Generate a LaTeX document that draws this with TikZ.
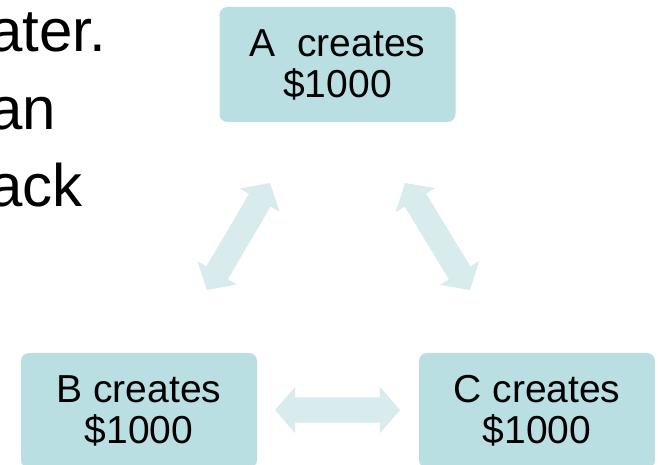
\documentclass[tikz,border=0pt]{standalone}
\usepackage{fontspec}
\setmainfont{Liberation Sans}
\usetikzlibrary{calc}
\definecolor{boxfill}{HTML}{B9DFE3}
\definecolor{arrfill}{HTML}{D8ECEE}
\newcommand\fatarrow[2]{%
  \fill[arrfill] (#1) -- ($(#1)!30.5pt!49.0:(#2)$) -- ($(#1)!23.6pt!32.0:(#2)$)
    -- ($(#2)!23.6pt!-32.0:(#1)$) -- ($(#2)!30.5pt!-49.0:(#1)$) -- (#2)
    -- ($(#2)!30.5pt!49.0:(#1)$) -- ($(#2)!23.6pt!32.0:(#1)$)
    -- ($(#1)!23.6pt!-32.0:(#2)$) -- ($(#1)!30.5pt!-49.0:(#2)$) -- cycle;}
\begin{document}
\begin{tikzpicture}[x=1pt,y=-1pt,
  boxnode/.style={fill=boxfill,rounded corners=8pt,minimum width=236pt,minimum height=115pt,
    inner sep=0pt,align=center,font=\fontsize{39}{41}\selectfont},
  bigtext/.style={anchor=base west,inner sep=0pt,font=\fontsize{60}{60}\selectfont}]
\useasboundingbox[fill=white] (0,0) rectangle (658,465);
\node[bigtext] (t1) at (-11,52) {ater.};
\node[bigtext] (t2) at (-11,130) {an};
\node[bigtext] (t3) at (-11,207) {ack};
\node[boxnode] (A) at (337.5,64.5) {A\ \ creates\\\$1000};
\node[boxnode] (B) at (139,410.5) {B creates\\\$1000};
\node[boxnode] (C) at (537,410.5) {C creates\\\$1000};
\coordinate (ab1) at (207,290);
\coordinate (ab2) at (270,183);
\coordinate (ac1) at (405,183);
\coordinate (ac2) at (470,290);
\coordinate (bc1) at (275,410);
\coordinate (bc2) at (400,410);
\fatarrow{ab1}{ab2}
\fatarrow{ac1}{ac2}
\fatarrow{bc1}{bc2}
\end{tikzpicture}
\end{document}
